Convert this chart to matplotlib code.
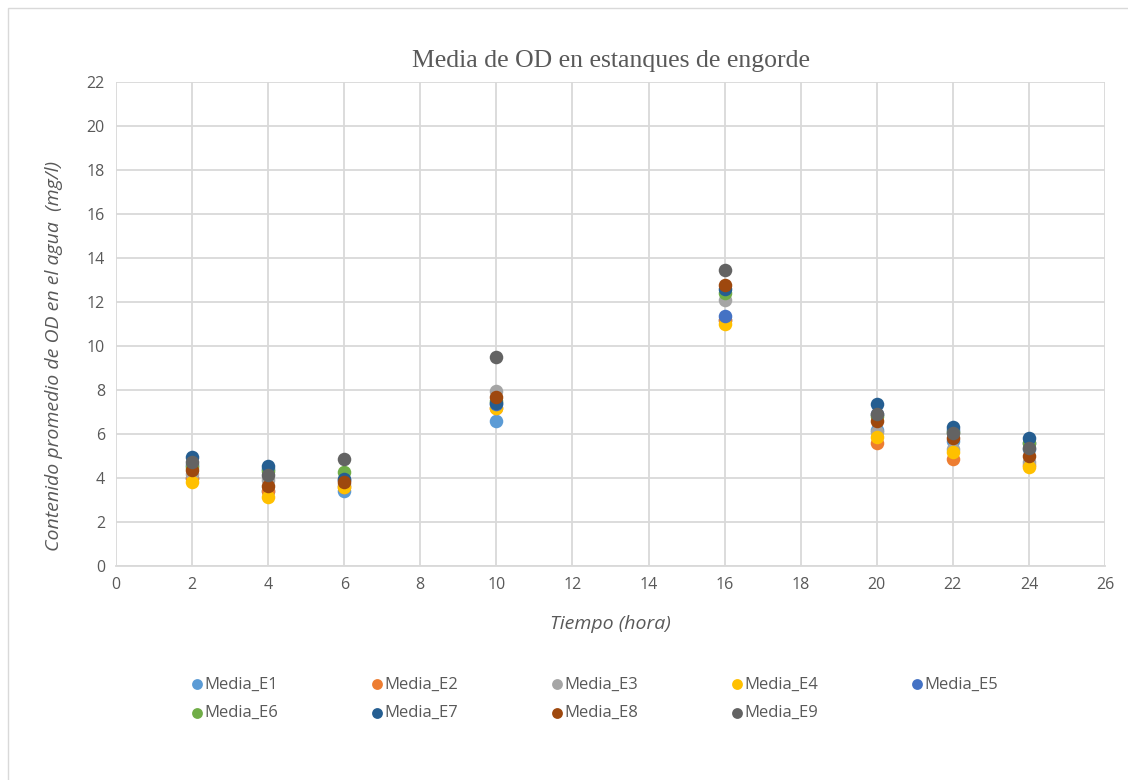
import matplotlib.pyplot as plt
from matplotlib.patches import Rectangle

# hours sampled
tiempo = [2, 4, 6, 10, 16, 20, 22, 24]

# mean dissolved oxygen (mg/l) per pond
media_e1 = [4.0, 3.4, 3.41, 6.6, 11.2, 6.2, 5.7, 5.3]
media_e2 = [4.0, 3.4, 3.6, 7.2, 11.2, 5.58, 4.86, 4.6]
media_e3 = [4.2, 3.9, 3.7, 7.97, 12.1, 6.1, 5.3, 4.74]
media_e4 = [3.82, 3.15, 3.6, 7.17, 11.0, 5.88, 5.17, 4.49]
media_e5 = [4.6, 4.4, 3.9, 7.35, 11.38, 6.9, 6.2, 5.6]
media_e6 = [4.5, 4.3, 4.26, 7.5, 12.4, 6.8, 6.1, 5.6]
media_e7 = [4.97, 4.55, 3.95, 7.4, 12.6, 7.36, 6.33, 5.8]
media_e8 = [4.38, 3.65, 3.83, 7.67, 12.77, 6.6, 5.83, 5.02]
media_e9 = [4.75, 4.14, 4.86, 9.52, 13.47, 6.9, 6.06, 5.38]

series = [media_e1, media_e2, media_e3, media_e4, media_e5,
          media_e6, media_e7, media_e8, media_e9]
nombres = ["Media_E1", "Media_E2", "Media_E3", "Media_E4", "Media_E5",
           "Media_E6", "Media_E7", "Media_E8", "Media_E9"]
colores = ["#5B9BD5", "#ED7D31", "#A5A5A5", "#FFC000", "#4472C4",
           "#70AD47", "#255E91", "#9E480E", "#636363"]

gris = "#595959"
plt.rcParams["font.family"] = ["Open Sans", "DejaVu Sans"]

fig = plt.figure(figsize=(11.28, 7.8), dpi=100)
ax = fig.add_axes([116 / 1128, 1 - 566 / 780, (1105 - 116) / 1128, (566 - 82) / 780])

for vals, nom, col in zip(series, nombres, colores):
    ax.scatter(tiempo, vals, s=95, color=col, label=nom, zorder=3, linewidths=0)

ax.set_xlim(0, 26)
ax.set_ylim(0, 22)
ax.set_xticks(range(0, 27, 2))
ax.set_yticks(range(0, 23, 2))
ax.grid(True, color="#D9D9D9", linewidth=1.3)
ax.set_axisbelow(True)
for s in ["top", "right", "left"]:
    ax.spines[s].set_visible(False)
ax.spines["bottom"].set_color("#D9D9D9")
ax.spines["bottom"].set_linewidth(1.3)
ax.tick_params(length=0, labelsize=11.5, colors=gris, pad=8)

ax.set_title("Media de OD en estanques de engorde", family="Liberation Serif",
             fontsize=18.5, color=gris, pad=11)
ax.set_xlabel("Tiempo (hora)", style="italic", fontsize=14, color=gris, labelpad=16)
ax.set_ylabel("Contenido promedio de OD en el agua  (mg/l)", style="italic",
              fontsize=14, color=gris)
ax.yaxis.set_label_coords(-0.054, 0.434)

# legend filled row by row: 5 on top, 4 below
h, l = ax.get_legend_handles_labels()
orden = [0, 5, 1, 6, 2, 7, 3, 8, 4]
fig.legend([h[i] for i in orden], [l[i] for i in orden], ncol=5,
           loc="center", bbox_to_anchor=(0.527, 1 - 699 / 780), frameon=False,
           fontsize=12, labelcolor=gris, markerscale=0.8, handletextpad=0.05,
           columnspacing=5.52, handlelength=0.8, labelspacing=0.75)

fig.patches.append(Rectangle((8 / 1128, -0.1), 1.2, 1 - 8 / 780 + 0.1,
                             transform=fig.transFigure, fill=False,
                             edgecolor="#D9D9D9", linewidth=1))

fig.savefig("out.png", dpi=100, facecolor="white")
